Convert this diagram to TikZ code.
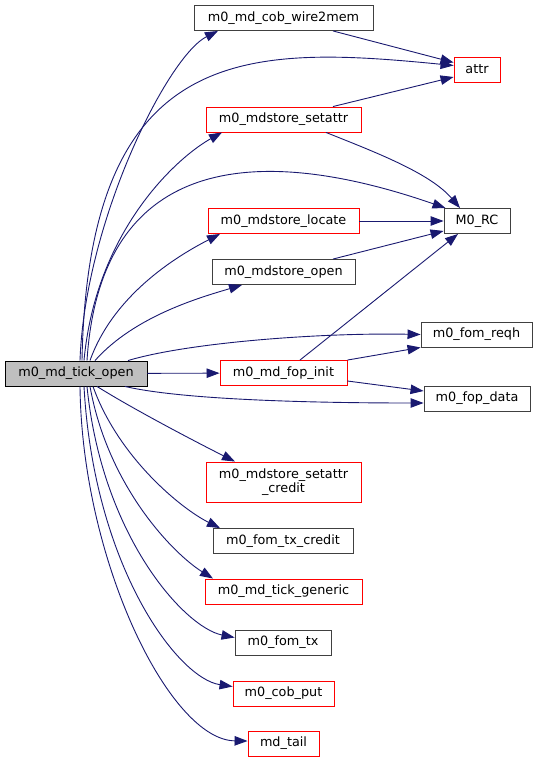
\documentclass[tikz,border=0pt]{standalone}
\usepackage{fontspec}
\setmainfont{DejaVu Sans}
\usepackage{xcolor}
\usepackage{tikz}
\usetikzlibrary{arrows.meta}
\definecolor{edgeblue}{RGB}{25,25,112}
\definecolor{rootgray}{RGB}{191,191,191}

\begin{document}
\begin{tikzpicture}[x=1pt, y=-1pt,
      font=\fontsize{12.8}{14.5}\selectfont,
      fn/.style={draw=black!75, line width=0.9pt, fill=white, minimum height=25pt,
                 inner sep=2pt, align=center},
      fnred/.style={fn, draw=red},
      root/.style={fn, draw=black, fill=rootgray},
      arr/.style={-{Triangle[length=13pt, width=9.5pt]}, line width=0.9pt, draw=edgeblue}]
    \useasboundingbox (0,0) rectangle (539,763);
    \node[root, minimum width=142pt]  (root)     at (76,373.5)   {m0\_md\_tick\_open};
    \node[fn, minimum width=179pt]    (wire)     at (283.5,18)   {m0\_md\_cob\_wire2mem};
    \node[fnred, minimum width=46pt]  (attr)     at (477,69.5)   {attr};
    \node[fnred, minimum width=155pt] (setattr)  at (283.5,119.5) {m0\_mdstore\_setattr};
    \node[fn, minimum width=66pt]     (rc)       at (477,221)    {M0\_RC};
    \node[fnred, minimum width=151pt] (locate)   at (283.5,221)  {m0\_mdstore\_locate};
    \node[fn, minimum width=143pt]    (open)     at (283.5,272)  {m0\_mdstore\_open};
    \node[fn, minimum width=111pt]    (reqh)     at (476.5,334.5) {m0\_fom\_reqh};
    \node[fnred, minimum width=127pt] (fopinit)  at (283.5,373)  {m0\_md\_fop\_init};
    \node[fn, minimum width=106pt]    (fopdata)  at (477,398.5)  {m0\_fop\_data};
    \node[fnred, minimum width=155pt, minimum height=40pt] (credit) at (283.5,482) {m0\_mdstore\_setattr\\\_credit};
    \node[fn, minimum width=140pt]    (txcredit) at (283,541)    {m0\_fom\_tx\_credit};
    \node[fnred, minimum width=157pt] (generic)  at (283.5,591.5) {m0\_md\_tick\_generic};
    \node[fn, minimum width=96pt]     (fomtx)    at (283,642.5)  {m0\_fom\_tx};
    \node[fnred, minimum width=101pt] (cobput)   at (283.5,693.5) {m0\_cob\_put};
    \node[fnred, minimum width=71pt]  (tail)     at (283.5,743.5) {md\_tail};
    \draw[arr] ([xshift=4pt]root.north) .. controls +(5,-140) and +(-50,25) .. ([xshift=-65.5pt]wire.south);
    \draw[arr] ([xshift=6pt]root.north) .. controls +(6,-320) and +(-204,-20) .. ([yshift=4pt]attr.west);
    \draw[arr] ([xshift=8pt]root.north) .. controls +(12,-130) and +(-45,25) .. ([xshift=-61.5pt]setattr.south);
    \draw[arr] ([xshift=11pt]root.north) .. controls +(13,-201) and +(-196,-68) .. ([xshift=2pt]rc.north west);
    \draw[arr] ([xshift=14pt]root.north) .. controls +(25,-70) and +(-35,18) .. ([xshift=-63.5pt]locate.south);
    \draw[arr] ([xshift=19pt]root.north) .. controls +(40,-45) and +(-40,12) .. ([xshift=-41.5pt]open.south);
    \draw[arr] ([xshift=52pt]root.north) .. controls +(60,-18) and +(-100,-2) .. (reqh.west);
    \draw[arr] (root) -- (fopinit);
    \draw[arr] ([xshift=49pt]root.south) .. controls +(60,14) and +(-100,0) .. ([yshift=-4.5pt]fopdata.west);
    \draw[arr] ([xshift=21pt]root.south) .. controls +(40,25) and +(-30,-15) .. ([xshift=-48.5pt]credit.north);
    \draw[arr] ([xshift=17pt]root.south) .. controls +(25,70) and +(-40,-20) .. ([xshift=-63pt]txcredit.north);
    \draw[arr] ([xshift=14pt]root.south) .. controls +(18,100) and +(-40,-25) .. ([xshift=-70.5pt]generic.north);
    \draw[arr] ([xshift=11pt]root.south) .. controls +(15,150) and +(-50,-10) .. ([yshift=5pt]fomtx.west);
    \draw[arr] ([xshift=8pt]root.south) .. controls +(10,180) and +(-55,-8) .. ([yshift=7pt]cobput.west);
    \draw[arr] ([xshift=4pt]root.south) .. controls +(2,174) and +(-78,-1) .. ([yshift=2.5pt]tail.west);
    \draw[arr] ([xshift=49.5pt]wire.south) -- ([yshift=7pt]attr.west);
    \draw[arr] ([xshift=49.5pt]setattr.north) -- ([yshift=-7.5pt]attr.west);
    \draw[arr] ([xshift=42.5pt]setattr.south) .. controls +(50,20) and +(-30,-35) .. ([xshift=-17pt]rc.north);
    \draw[arr] (locate) -- (rc);
    \draw[arr] ([xshift=49.5pt]open.north) -- ([yshift=3pt]rc.south west);
    \draw[arr] ([xshift=16.5pt]fopinit.north) -- ([xshift=-19pt]rc.south);
    \draw[arr] (fopinit.north east) -- (reqh.south west);
    \draw[arr] ([yshift=-8pt]fopinit.east) -- ([yshift=7.5pt]fopdata.west);
  \end{tikzpicture}
\end{document}
